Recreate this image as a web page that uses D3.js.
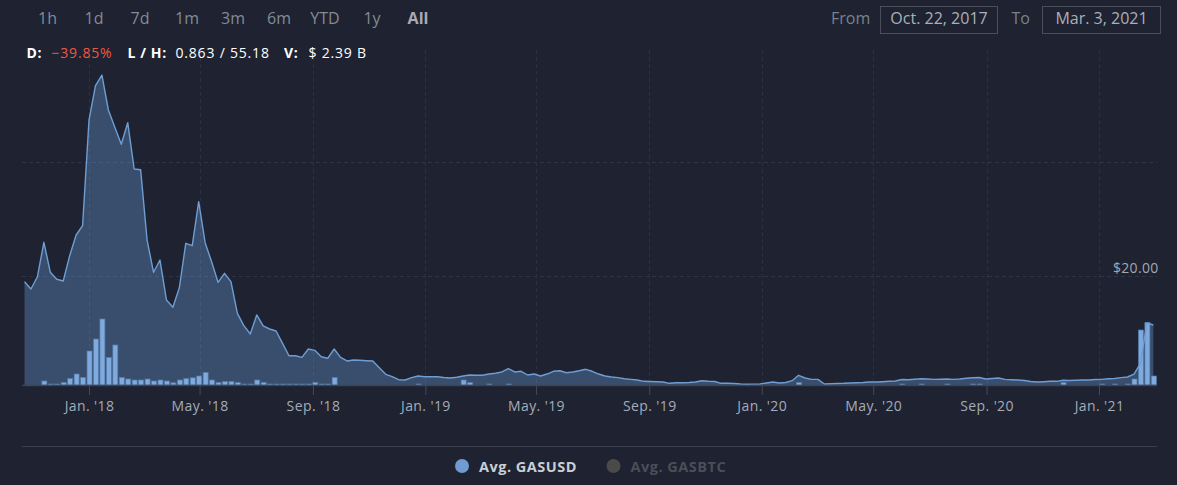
<!DOCTYPE html>
<html><head><meta charset="utf-8">
<script src="https://cdn.jsdelivr.net/npm/d3@7"></script>
<style>
html,body{margin:0;padding:0;background:#1e2231;}
svg{display:block;font-family:"Open Sans",sans-serif;}
</style></head><body>
<svg id="c" width="1177" height="485"></svg>
<script>
// ---------- data ----------
const rangeButtons = ["1h","1d","7d","1m","3m","6m","YTD","1y","All"];
const rangeFrom = "Oct. 22, 2017";
const rangeTo = "Mar. 3, 2021";
const domainStart = "2017-10-22";
const domainEnd = "2021-03-03";
const firstWeek = "2017-10-23";
const lastWeek = "2021-03-01";
const statLabels = ["D:", "L / H:", "V:"];
const statValues = ["\u221239.85%", "0.863 / 55.18", "$ 2.39 B"];
const seriesNames = ["Avg. GASUSD", "Avg. GASBTC"];
const tickDates = ["2018-01-01","2018-05-01","2018-09-01","2019-01-01","2019-05-01","2019-09-01","2020-01-01","2020-05-01","2020-09-01","2021-01-01"];
const tickLabels = ["Jan. '18","May. '18","Sep. '18","Jan. '19","May. '19","Sep. '19","Jan. '20","May. '20","Sep. '20","Jan. '21"];
const priceGrid = [20, 40];
const priceLabels = ["$20.00"];
// weekly average GAS price (USD)
const priceUSD = [
18.95,17.67,19.82,25.86,20.60,19.37,19.07,23.51,27.14,28.77,
47.32,53.33,55.18,49.07,46.04,43.05,46.84,38.72,38.60,26.26,
20.60,22.75,15.74,14.46,17.89,25.68,25.26,32.98,25.79,22.46,
18.84,20.42,18.95,13.40,11.23,9.77,13.11,11.18,10.65,10.30,
8.14,5.96,5.96,5.68,7.14,6.91,5.79,5.51,7.14,5.68,
5.04,5.21,5.16,5.09,5.04,3.86,2.70,2.28,1.75,1.70,
2.11,2.40,2.28,2.28,2.28,2.14,2.05,2.18,2.40,2.58,
2.53,2.53,2.75,2.88,3.11,3.68,3.11,3.23,2.58,2.75,
2.40,2.75,3.23,3.33,2.98,3.11,3.33,3.58,3.23,2.75,
2.40,2.23,2.11,1.93,1.82,1.70,1.47,1.44,1.40,1.35,
1.12,1.21,1.23,1.26,1.35,1.58,1.47,1.44,1.12,1.12,
1.09,1.00,0.96,0.98,1.00,1.18,1.35,1.18,1.26,1.58,
2.53,2.05,1.82,1.82,1.00,1.04,1.09,1.12,1.18,1.21,
1.26,1.35,1.35,1.40,1.47,1.53,1.79,1.75,1.84,1.93,
1.88,1.82,1.84,1.88,1.82,1.88,2.00,2.09,2.14,1.88,
1.96,2.05,1.82,1.75,1.70,1.61,1.44,1.35,1.40,1.47,
1.47,1.65,1.61,1.67,1.70,1.70,1.79,1.82,1.91,1.96,
2.11,2.23,2.75,4.63,11.70,11.35];
// weekly volume (USD millions)
const volumeUSDm = [
0,0,0,20,5,5,13,32,55,38,
170,230,330,138,200,38,30,25,25,30,
20,25,20,11,25,32,36,45,63,25,
13,17,18,12,5,5,25,13,5,5,
5,5,5,5,5,13,5,5,38,0,
0,0,0,0,0,0,0,0,0,0,
0,5,0,0,0,0,0,0,25,12,
0,0,5,0,0,5,0,0,0,0,
0,0,0,0,0,0,0,0,0,0,
0,0,0,0,0,0,0,0,0,0,
0,0,0,0,0,0,0,0,0,0,
0,0,0,0,0,0,0,0,0,0,
12,0,0,0,0,0,0,0,0,0,
0,0,0,0,0,0,5,0,0,5,
0,0,0,5,0,0,0,5,5,0,
0,0,0,0,0,0,0,0,0,0,
0,12,0,0,0,0,0,5,0,5,
0,5,30,275,312,45];

// ---------- chart ----------
const svg = d3.select("#c");
const W = 1177, H = 485;
const plot = {left: 22, right: 1157, top: 50, bottom: 385};
const parse = d3.utcParse("%Y-%m-%d");
const weeks = d3.utcMonday.range(parse(firstWeek), d3.utcDay.offset(parse(lastWeek), 1));
const data = weeks.map((d, i) => ({date: d, price: priceUSD[i], vol: volumeUSDm[i]}));

const x = d3.scaleUtc().domain([parse(domainStart), parse(domainEnd)]).range([23.6, 1155.2]);
const yP = d3.scaleLinear().domain([0, 60]).range([389.7, 47.7]);
const yV = d3.scaleLinear().domain([0, 400]).range([plot.bottom, 305]);

svg.append("rect").attr("width", W).attr("height", H).attr("fill", "#1e2231");

const defs = svg.append("defs");
defs.append("clipPath").attr("id", "clip").append("rect")
  .attr("x", plot.left).attr("y", plot.top)
  .attr("width", plot.right - plot.left).attr("height", plot.bottom - plot.top);

// gridlines
const grid = svg.append("g");
grid.selectAll("line.h").data(priceGrid).join("line")
  .attr("x1", plot.left).attr("x2", plot.right)
  .attr("y1", d => Math.round(yP(d)) + 0.5).attr("y2", d => Math.round(yP(d)) + 0.5)
  .attr("stroke", "#2f3546").attr("stroke-dasharray", "4,3");
grid.selectAll("line.v").data(tickDates).join("line")
  .attr("x1", d => Math.round(x(parse(d))) + 0.5).attr("x2", d => Math.round(x(parse(d))) + 0.5)
  .attr("y1", plot.top).attr("y2", plot.bottom)
  .attr("stroke", "#2b3142").attr("stroke-dasharray", "4,3");

const g = svg.append("g").attr("clip-path", "url(#clip)");

// area fill
g.append("path").datum(data)
  .attr("d", d3.area().x(d => x(d.date)).y0(yP(0)).y1(d => yP(d.price)))
  .attr("fill", "#6a9bd3").attr("fill-opacity", 0.37);

// volume bars
g.selectAll("rect.v").data(data.filter(d => d.vol > 0)).join("rect")
  .attr("x", d => x(d.date) - 2)
  .attr("width", 5)
  .attr("y", d => yV(d.vol))
  .attr("height", d => plot.bottom - yV(d.vol))
  .attr("fill", "#7eaadd").attr("stroke", "#557aa8").attr("stroke-width", 0.7);

// price line
g.append("path").datum(data)
  .attr("d", d3.line().x(d => x(d.date)).y(d => yP(d.price)))
  .attr("fill", "none").attr("stroke", "#6e9ed3").attr("stroke-width", 1.4)
  .attr("stroke-linejoin", "round");

// y label
svg.selectAll("text.yl").data(priceLabels).join("text")
  .attr("x", 1158.5).attr("y", yP(20) - 3)
  .attr("text-anchor", "end").attr("font-size", 14).attr("letter-spacing", 0.3)
  .attr("fill", "#a3a9b3")
  .text(d => d);

// x axis
const xAxis = d3.axisBottom(x)
  .tickValues(tickDates.map(parse))
  .tickFormat((d, i) => tickLabels[i])
  .tickSize(10).tickPadding(6);
const ax = svg.append("g").attr("transform", `translate(0,${plot.bottom})`).call(xAxis);
ax.select(".domain").attr("d", `M${plot.left},0.5H${plot.right}`).attr("stroke", "#40444f").attr("stroke-width", 1.5);
ax.selectAll(".tick line").attr("stroke", "#454a55");
ax.selectAll(".tick text").attr("fill", "#a5acb7").attr("font-size", 14)
  .attr("letter-spacing", 0.4)
  .attr("font-family", "Open Sans, sans-serif");

// separator
svg.append("line").attr("x1", plot.left).attr("x2", plot.right)
  .attr("y1", 446.5).attr("y2", 446.5).attr("stroke", "#3c404b");

// legend
const legendX = [462, 613.5];
const legendColor = ["#6f9bd0", "#4a4a4a"];
const legendText = ["#c9ced6", "#4b4e57"];
const lg = svg.append("g");
seriesNames.forEach((n, i) => {
  lg.append("circle").attr("cx", legendX[i]).attr("cy", 466).attr("r", 7).attr("fill", legendColor[i]);
  lg.append("text").attr("x", legendX[i] + 17).attr("y", 471.5)
    .attr("font-size", 14.5).attr("font-weight", "bold").attr("letter-spacing", 0.5)
    .attr("fill", legendText[i]).text(n);
});

// range buttons
const btnX = [47.5, 94, 140, 187, 233, 279, 325, 372, 418];
svg.selectAll("text.btn").data(rangeButtons).join("text")
  .attr("x", (d, i) => btnX[i]).attr("y", 24)
  .attr("text-anchor", "middle").attr("font-size", 16)
  .attr("font-weight", d => d === "All" ? "bold" : "normal")
  .attr("fill", d => d === "All" ? "#a7abb3" : "#858b95")
  .text(d => d);

// from / to
svg.append("text").attr("x", 831).attr("y", 24).attr("font-size", 16).attr("fill", "#7b818b").text("From");
svg.append("text").attr("x", 1011.5).attr("y", 24).attr("font-size", 16).attr("fill", "#7b818b").text("To");
[[880.5, 117, rangeFrom], [1042.5, 118, rangeTo]].forEach(([bx, bw, t]) => {
  svg.append("rect").attr("x", bx).attr("y", 6.5).attr("width", bw).attr("height", 27)
    .attr("fill", "none").attr("stroke", "#4a4f5a");
  svg.append("text").attr("x", bx + bw / 2).attr("y", 24).attr("text-anchor", "middle")
    .attr("font-size", 16).attr("fill", "#aab0ba").text(t);
});

// stats line
const statLabelX = [26.5, 127.5, 284];
const statValueX = [51.5, 175.5, 308.5];
statLabels.forEach((s, i) => {
  svg.append("text").attr("x", statLabelX[i]).attr("y", 58.3).attr("font-size", 14)
    .attr("font-weight", "bold").attr("letter-spacing", 0.6).attr("fill", "#ffffff").text(s);
  svg.append("text").attr("x", statValueX[i]).attr("y", 58.3).attr("font-size", 14)
    .attr("letter-spacing", 0.8)
    .attr("fill", i === 0 ? "#f0573f" : "#ffffff").text(statValues[i]);
});
</script>
</body></html>
